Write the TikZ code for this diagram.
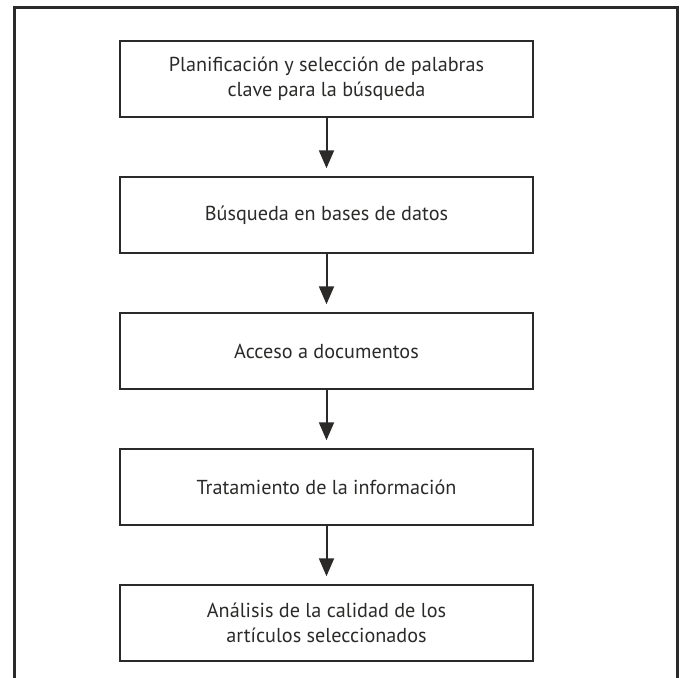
\documentclass[tikz,border=0pt]{standalone}
\usepackage{fontspec}
\setmainfont{PT Sans}
\usetikzlibrary{positioning, arrows.meta}
\definecolor{ink}{HTML}{2B2A29}
\tikzstyle{stepbox} = [rectangle, minimum width=413pt, minimum height=76pt, text centered, align=center, draw=ink, line width=1.5pt, text=ink, font=\fontsize{20.2}{25}\selectfont]
\tikzstyle{arrow} = [draw=ink, line width=2pt, -{Triangle[length=18pt,width=15pt]}, shorten >=8pt]

\begin{document}
\begin{tikzpicture}[node distance=58.5pt]
        \useasboundingbox (0pt,0pt) rectangle (681pt,-678pt);
        \begin{scope}
            \clip (0pt,0pt) rectangle (681pt,-678pt);
            \draw[ink, line width=3pt] (14pt,-700pt) -- (14pt,-7pt) -- (677pt,-7pt) -- (677pt,-700pt);
        \end{scope}

        \node[stepbox] at (326.5pt,-79pt)                      (plan)     {Planificación y selección de palabras\\clave para la búsqueda};
        \node[stepbox, below=of plan]                          (busqueda) {Búsqueda en bases de datos};
        \node[stepbox, below=of busqueda]                      (acceso)   {Acceso a documentos};
        \node[stepbox, below=of acceso]                        (trata)    {Tratamiento de la información};
        \node[stepbox, below=of trata]                         (analisis) {Análisis de la calidad de los\\artículos seleccionados};

        \draw[arrow] (plan)     -- (busqueda);
        \draw[arrow] (busqueda) -- (acceso);
        \draw[arrow] (acceso)   -- (trata);
        \draw[arrow] (trata)    -- (analisis);
    \end{tikzpicture}
\end{document}
